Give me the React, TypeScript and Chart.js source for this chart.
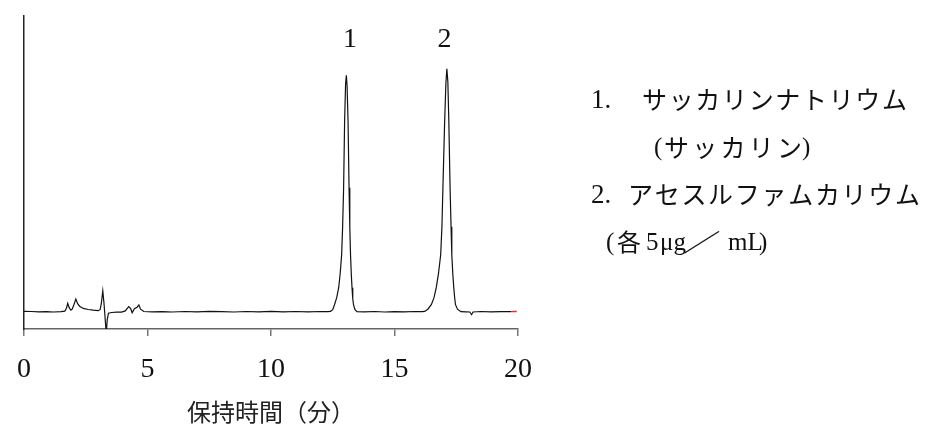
import React, { useEffect, useRef } from 'react';
import { Chart, registerables } from 'chart.js';

Chart.register(...registerables);

// Retention time axis (minutes)
const xTickValues = [0, 5, 10, 15, 20];

// Chromatogram trace: retention time (min) and detector response (arbitrary units, baseline = 0)
const traceTimes = [
  0.0, 0.3, 0.6, 0.9, 1.2, 1.5, 1.65, 1.72, 1.77, 1.83, 1.9, 1.95, 2.02, 2.1, 2.17, 2.25, 2.4, 2.6, 2.8, 3.0,
  3.08, 3.13, 3.19, 3.24, 3.28, 3.33, 3.37, 3.42, 3.55, 3.75, 3.95, 4.1, 4.24, 4.32, 4.38, 4.47, 4.58, 4.65, 4.72, 4.85,
  5.2, 5.6, 6.0, 6.5, 7.0, 7.5, 8.0, 8.5, 9.0, 9.5, 10.0, 10.5, 11.0, 11.5, 12.0, 12.3,
  12.41, 12.5, 12.57, 12.66, 12.74, 12.8, 12.86, 12.9, 12.94, 12.98, 13.02, 13.05, 13.08, 13.12, 13.16, 13.19, 13.22,
  13.25, 13.28, 13.31, 13.34, 13.4, 13.48,
  13.8, 14.2, 14.6, 15.0, 15.4, 15.8, 16.1,
  16.22, 16.35, 16.49, 16.6, 16.69, 16.78, 16.87, 16.92, 16.96, 17.03, 17.08, 17.12, 17.16, 17.2, 17.25, 17.29, 17.32,
  17.36, 17.4, 17.44, 17.47, 17.55, 17.69,
  17.9, 18.05, 18.12, 18.18, 18.5, 18.9, 19.3, 19.72,
];
const traceValues = [
  0.3, 0.2, -0.2, 0.1, -0.3, 0.0, 0.6, 3.5, 8.4, 4.0, 1.5, 2.5, 7.0, 12.7, 8.0, 5.5, 3.3, 2.2, 1.5, 1.0,
  2.0, 8.0, 20.7, 8.0, -5.0, -22.0, -8.0, -1.5, -0.8, -0.5, -0.4, 0.8, 5.0, 3.0, -1.0, 3.0, 4.5, 6.7, 2.5, 0.2,
  -0.2, 0.1, -0.3, 0.2, -0.2, 0.3, 0.0, -0.3, 0.2, -0.1, 0.3, -0.2, 0.2, -0.1, 0.2, 0.0,
  0.3, 2.0, 7.0, 14.0, 24.0, 38.0, 57.0, 85.0, 124.0, 190.0, 228.0, 236.5, 226.0, 190.0, 124.0, 85.0, 57.0,
  38.0, 24.0, 13.0, 7.0, 2.0, 0.0,
  -0.2, 0.2, -0.3, 0.1, -0.2, 0.2, 0.0,
  0.3, 2.5, 7.0, 14.0, 24.0, 38.0, 57.0, 85.0, 124.0, 190.0, 228.0, 243.0, 230.0, 190.0, 124.0, 85.0, 57.0,
  38.0, 24.0, 13.0, 7.0, 2.5, 0.0,
  -0.2, -0.3, -3.0, -0.3, 0.2, -0.2, 0.1, 0.1,
];

// Short red end segment of the trace
const tailTimes = [19.72, 19.82, 19.95];
const tailValues = [0.1, 0.3, 0.2];

// Peak number labels
const peakLabelTexts = ['1', '2'];
const peakLabelTimes = [13.2, 17.02];
const peakLabelLevel = 272;

// Side legend text
const legendNumbers = ['1.', '2.'];
const legendNames = ['サッカリンナトリウム', 'サッカリン', 'アセスルファムカリウム'];
const legendNote = ['(', '各', '5', 'μg', '／', 'mL', ')'];

const axisTitle = '保持時間（分）';

const SERIF = '"Liberation Serif", "DejaVu Serif", serif';
const JP = '"Noto Sans CJK JP", sans-serif';

const annotationPlugin = {
  id: 'chromAnnotations',
  afterDraw(chart: any) {
    const ctx: CanvasRenderingContext2D = chart.ctx;
    const xs = chart.scales.x;
    const ys = chart.scales.y;
    ctx.save();
    ctx.fillStyle = '#111';
    ctx.textBaseline = 'middle';

    // peak labels
    ctx.textAlign = 'center';
    ctx.font = `28px ${SERIF}`;
    peakLabelTexts.forEach((t, i) => {
      ctx.fillText(t, xs.getPixelForValue(peakLabelTimes[i]), ys.getPixelForValue(peakLabelLevel));
    });

    // side legend
    ctx.textAlign = 'left';
    const fit = (text: string, x: number, y: number, font: string, width: number) => {
      ctx.font = font;
      (ctx as any).letterSpacing = '0px';
      const w = ctx.measureText(text).width;
      const n = Array.from(text).length;
      const ls = n > 1 ? (width - w) / (n - 1) : 0;
      (ctx as any).letterSpacing = `${ls}px`;
      ctx.fillText(text, x, y);
      (ctx as any).letterSpacing = '0px';
    };
    ctx.font = `27px ${SERIF}`;
    ctx.fillText(legendNumbers[0], 591, 101);
    ctx.fillText(legendNumbers[1], 591, 196);
    fit(legendNames[0], 642, 99, `25px ${JP}`, 265);
    ctx.font = `25px ${SERIF}`;
    ctx.fillText('(', 654, 148);
    fit(legendNames[1], 664, 147, `25px ${JP}`, 138);
    ctx.font = `25px ${SERIF}`;
    ctx.fillText(')', 802, 148);
    fit(legendNames[2], 628, 194, `25px ${JP}`, 292);

    const noteX = [606, 617, 646, 660, 684, 728, 759];
    const noteFont = [SERIF, JP, SERIF, SERIF, JP, SERIF, SERIF];
    legendNote.forEach((s, i) => {
      if (s === '／') {
        ctx.save();
        ctx.font = `24px ${JP}`;
        ctx.translate(noteX[i], 242);
        ctx.scale(1.6, 1);
        ctx.fillText(s, -1, 0);
        ctx.restore();
        return;
      }
      ctx.font = `${noteFont[i] === JP ? 24 : 25}px ${noteFont[i]}`;
      ctx.fillText(s, noteX[i], noteFont[i] === JP ? 242 : 243);
    });
    ctx.restore();
  },
};

export default function App() {
  const canvasRef = useRef<HTMLCanvasElement | null>(null);

  useEffect(() => {
    document.body.style.margin = '0';
    const canvas = canvasRef.current;
    if (!canvas) return;
    const chart = new Chart(canvas, {
      type: 'line',
      data: {
        datasets: [
          {
            data: traceTimes.map((t, i) => ({ x: t, y: traceValues[i] })),
            borderColor: '#111',
            borderWidth: 1.2,
            pointRadius: 0,
            tension: 0,
            fill: false,
          },
          {
            data: tailTimes.map((t, i) => ({ x: t, y: tailValues[i] })),
            borderColor: '#e03030',
            borderWidth: 1.4,
            pointRadius: 0,
            tension: 0,
            fill: false,
          },
        ],
      },
      options: {
        animation: false,
        responsive: true,
        maintainAspectRatio: false,
        layout: { padding: { left: 19, top: 16, right: 408, bottom: 0 } },
        plugins: { legend: { display: false }, tooltip: { enabled: false }, title: { display: false } },
        scales: {
          x: {
            type: 'linear',
            min: 0,
            max: 20,
            afterFit: (s: any) => {
              s.height = 98;
            },
            afterBuildTicks: (s: any) => {
              s.ticks = xTickValues.map((v) => ({ value: v }));
            },
            ticks: {
              autoSkip: false,
              maxRotation: 0,
              padding: 17,
              color: '#111',
              font: { family: SERIF, size: 28 },
            },
            grid: {
              display: true,
              drawOnChartArea: false,
              drawTicks: true,
              tickLength: 7,
              color: '#777',
              lineWidth: 1.5,
            },
            border: { display: true, color: '#666', width: 1.5 },
            title: {
              display: true,
              text: axisTitle,
              color: '#222',
              font: { family: JP, size: 24 },
              padding: { top: 0, bottom: 1 },
            },
          },
          y: {
            type: 'linear',
            min: -17.3,
            max: 295.7,
            afterFit: (s: any) => {
              s.width = 0;
            },
            ticks: { display: false },
            grid: { display: false, drawTicks: false },
            border: { display: true, color: '#222', width: 1.5 },
          },
        },
      },
      plugins: [annotationPlugin],
    });
    return () => chart.destroy();
  }, []);

  return (
    <div style={{ position: 'fixed', left: 0, top: 0, width: 926, height: 427, background: '#fff' }}>
      <canvas ref={canvasRef} />
    </div>
  );
}
